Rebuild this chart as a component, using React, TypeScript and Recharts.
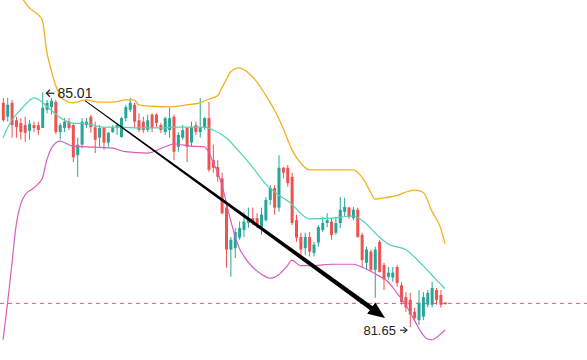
import { ComposedChart, Bar, Line, XAxis, YAxis, ReferenceLine, ReferenceDot } from 'recharts';

// OHLC candles, read left to right
const opens = [
  84.86, 84.66, 84.86, 84.61, 84.57, 84.54, 84.46, 84.54, 84.54, 84.5,
  84.76, 84.8, 84.87, 84.44, 84.5, 84.59, 84.54, 84.11, 84.26, 84.54,
  84.66, 84.51, 84.36, 84.5, 84.29, 84.44, 84.5, 84.37, 84.64, 84.76,
  84.83, 84.61, 84.59, 84.47, 84.69, 84.69, 84.54, 84.44, 84.47, 84.66,
  84.23, 84.36, 84.5, 84.29, 84.54, 84.44, 84.5, 84.64, 84.04, 83.94,
  83.78, 83.36, 82.76, 82.78, 82.93, 83.04, 83.14, 83.21, 83.21, 83.08,
  83.18, 83.47, 83.64, 83.36, 83.93, 83.93, 83.8, 83.18, 82.94, 82.78,
  82.94, 82.71, 82.86, 83.04, 83.14, 83.16, 83.0, 83.14, 83.3, 83.36,
  83.21, 83.33, 82.97, 82.57, 82.73, 82.47, 82.87, 82.54, 82.37, 82.36,
  82.51, 82.25, 82.08, 82.04, 81.87, 81.75, 81.8, 81.97, 81.97, 82.18,
  82.11, 82.0,
];
const highs = [
  84.93, 84.93, 84.9, 84.66, 84.64, 84.66, 84.61, 84.59, 84.59, 85.01,
  84.9, 84.93, 84.9, 84.57, 84.64, 84.64, 84.57, 84.36, 84.64, 84.64,
  84.69, 84.59, 84.54, 84.51, 84.44, 84.54, 84.57, 84.66, 84.83, 84.93,
  84.86, 84.71, 84.66, 84.69, 84.71, 84.71, 84.57, 84.66, 84.79, 84.69,
  84.44, 84.54, 84.51, 84.59, 84.59, 84.93, 84.66, 84.87, 84.26, 84.04,
  83.86, 83.4, 82.94, 83.07, 83.16, 83.3, 83.36, 83.36, 83.28, 83.36,
  83.51, 83.68, 83.68, 84.11, 83.94, 83.97, 83.86, 83.26, 83.0, 83.0,
  83.01, 82.87, 83.11, 83.23, 83.28, 83.21, 83.23, 83.51, 83.5, 83.37,
  83.37, 83.36, 83.0, 82.8, 82.76, 82.8, 82.9, 82.57, 82.51, 82.51,
  82.54, 82.3, 82.15, 82.14, 81.93, 82.18, 82.15, 82.18, 82.3, 82.21,
  82.18, 82.01,
];
const lows = [
  84.59, 84.59, 84.36, 84.36, 84.33, 84.3, 84.33, 84.44, 84.4, 84.5,
  84.71, 84.69, 84.41, 84.33, 84.44, 84.47, 84.01, 83.8, 84.21, 84.5,
  84.43, 84.14, 84.23, 84.19, 84.23, 84.43, 84.4, 84.36, 84.59, 84.73,
  84.5, 84.44, 84.43, 84.44, 84.44, 84.51, 84.43, 84.4, 84.36, 84.04,
  84.16, 84.33, 84.01, 84.23, 84.4, 84.36, 84.47, 83.87, 83.86, 83.73,
  83.26, 82.5, 82.37, 82.64, 82.9, 82.94, 83.07, 83.11, 83.07, 82.97,
  83.16, 83.4, 83.26, 83.3, 83.78, 83.66, 83.11, 82.87, 82.68, 82.68,
  82.66, 82.66, 82.8, 83.01, 83.08, 82.9, 82.97, 83.07, 83.23, 83.2,
  83.18, 82.93, 82.5, 82.47, 82.44, 82.07, 82.43, 82.18, 82.33, 82.3,
  82.23, 81.97, 81.87, 81.65, 81.73, 81.68, 81.75, 81.93, 81.93, 81.97,
  81.93, 81.97,
];
const closes = [
  84.61, 84.83, 84.54, 84.51, 84.44, 84.43, 84.56, 84.5, 84.47, 84.79,
  84.86, 84.89, 84.44, 84.54, 84.59, 84.5, 84.08, 84.26, 84.59, 84.59,
  84.51, 84.33, 84.5, 84.29, 84.43, 84.51, 84.54, 84.64, 84.8, 84.86,
  84.59, 84.47, 84.47, 84.61, 84.5, 84.57, 84.47, 84.64, 84.64, 84.16,
  84.4, 84.47, 84.23, 84.51, 84.44, 84.51, 84.64, 83.9, 83.93, 83.8,
  83.28, 82.76, 82.9, 83.01, 83.07, 83.16, 83.21, 83.16, 83.11, 83.26,
  83.47, 83.64, 83.36, 83.93, 83.86, 83.71, 83.14, 82.93, 82.76, 82.94,
  82.73, 82.83, 83.08, 83.14, 83.18, 82.97, 83.14, 83.33, 83.37, 83.23,
  83.33, 82.94, 82.61, 82.76, 82.47, 82.76, 82.44, 82.33, 82.43, 82.43,
  82.28, 82.01, 81.93, 81.83, 81.78, 82.0, 82.08, 82.14, 82.21, 82.04,
  81.97, 81.98,
];

// bollinger bands, read at selected candle indexes
const upperIdx = [0, 5, 6, 8, 9, 10, 11, 12, 13, 14, 16, 19, 22, 25, 28, 30, 31, 34, 38, 42, 45, 47, 49, 50, 51, 52, 54, 56, 58, 60, 62, 64, 66, 68, 70, 75, 80, 82, 84, 85, 87, 90, 92, 94, 96, 98, 100, 101];
const upperVal = [86.76, 86.3, 86.22, 86.12, 86.04, 85.59, 85.33, 85.11, 84.97, 84.9, 84.86, 84.9, 84.87, 84.87, 84.9, 84.9, 84.83, 84.81, 84.8, 84.83, 84.86, 84.91, 84.96, 85.07, 85.19, 85.3, 85.36, 85.29, 85.16, 84.97, 84.76, 84.5, 84.19, 84.0, 83.9, 83.9, 83.9, 83.8, 83.58, 83.48, 83.5, 83.53, 83.58, 83.61, 83.58, 83.31, 83.07, 82.84];
const midIdx = [0, 1, 2, 4, 6, 7, 8, 10, 12, 14, 16, 19, 23, 27, 31, 35, 40, 46, 48, 51, 54, 57, 60, 63, 66, 68, 70, 75, 80, 82, 86, 88, 92, 96, 99, 101];
const midVal = [84.36, 84.5, 84.61, 84.76, 84.89, 84.93, 84.91, 84.81, 84.7, 84.61, 84.57, 84.56, 84.51, 84.51, 84.5, 84.5, 84.51, 84.51, 84.47, 84.36, 84.16, 83.94, 83.7, 83.54, 83.41, 83.28, 83.2, 83.21, 83.24, 83.18, 82.94, 82.84, 82.76, 82.53, 82.33, 82.2];
const lowerIdx = [0, 1, 2, 3, 4, 5, 7, 8, 9, 10, 11, 13, 16, 19, 25, 28, 33, 37, 39, 43, 46, 47, 48, 49, 50, 51, 52, 53, 54, 55, 57, 59, 61, 63, 65, 66, 68, 71, 75, 80, 82, 84, 86, 88, 90, 92, 94, 96, 97, 98, 100, 101];
const lowerVal = [81.47, 81.97, 82.54, 83.11, 83.4, 83.54, 83.64, 83.7, 83.78, 84.04, 84.2, 84.31, 84.24, 84.23, 84.21, 84.16, 84.14, 84.23, 84.27, 84.24, 84.23, 84.16, 84.01, 83.87, 83.69, 83.44, 83.18, 82.96, 82.78, 82.67, 82.51, 82.41, 82.35, 82.4, 82.53, 82.61, 82.53, 82.53, 82.55, 82.55, 82.51, 82.45, 82.38, 82.3, 82.14, 81.97, 81.75, 81.54, 81.48, 81.47, 81.55, 81.61];

const highMark = { i: 9, price: 85.01 };
const lowMark = { i: 93, price: 81.65 };
const lastPrice = 81.99;
const trendFrom = { x: 18.74, y: 84.89 };
const trendTo = { x: 87.3, y: 81.78 };

const UP = '#26a69a';
const DOWN = '#ef5350';

const candles = opens.map((o, i) => ({
  i,
  open: o,
  high: highs[i],
  low: lows[i],
  close: closes[i],
  range: [lows[i], highs[i]],
}));

const band = (idx: number[], vals: number[]) => idx.map((i, k) => ({ i, v: vals[k] }));
const upper = band(upperIdx, upperVal);
const mid = band(midIdx, midVal);
const lower = band(lowerIdx, lowerVal);

const Candle = (props: any) => {
  const { x, y, width, height, payload } = props;
  const { open, close, high, low } = payload;
  const top = Math.min(y, y + height);
  const h = Math.abs(height);
  const k = high === low ? 0 : h / (high - low);
  const yOf = (v: number) => top + (high - v) * k;
  const color = close >= open ? UP : DOWN;
  const cx = x + width / 2;
  const bTop = yOf(Math.max(open, close));
  const bBot = yOf(Math.min(open, close));
  return (
    <g>
      <line x1={cx} x2={cx} y1={top} y2={top + h} stroke={color} strokeWidth={1} />
      <rect x={x} y={bTop} width={width} height={Math.max(1, bBot - bTop)} fill={color} />
    </g>
  );
};

const TrendArrow = (props: any) => {
  const { x1, y1, x2, y2 } = props;
  const dx = x2 - x1;
  const dy = y2 - y1;
  const len = Math.hypot(dx, dy);
  const ux = dx / len;
  const uy = dy / len;
  const nx = -uy;
  const ny = ux;
  const headLen = 17;
  const headW = 7;
  const w0 = 0.4;
  const w1 = 2.4;
  const bx = x2 - ux * headLen;
  const by = y2 - uy * headLen;
  const pts = [
    [x1 + nx * w0, y1 + ny * w0],
    [bx + nx * w1, by + ny * w1],
    [bx + nx * headW, by + ny * headW],
    [x2, y2],
    [bx - nx * headW, by - ny * headW],
    [bx - nx * w1, by - ny * w1],
    [x1 - nx * w0, y1 - ny * w0],
  ];
  return <polygon points={pts.map((p) => p.join(',')).join(' ')} fill="#000" />;
};

const HighLabel = (props: any) => {
  const { cx, cy } = props;
  const ay = cy + 1;
  return (
    <g>
      <line x1={cx + 4} y1={ay} x2={cx + 12} y2={ay} stroke="#222" strokeWidth={1.2} />
      <path d={`M${cx + 7.5},${ay - 3.5} L${cx + 4},${ay} L${cx + 7.5},${ay + 3.5}`} stroke="#222" fill="none" strokeWidth={1.2} />
      <text x={cx + 15} y={ay + 5} fontSize={14} fill="#222" fontFamily="'Liberation Sans', Arial, sans-serif">
        {highMark.price.toFixed(2)}
      </text>
    </g>
  );
};

const LowLabel = (props: any) => {
  const { cx, cy } = props;
  const ay = cy + 3;
  return (
    <g>
      <line x1={cx - 10} y1={ay} x2={cx - 3} y2={ay} stroke="#222" strokeWidth={1.1} />
      <path d={`M${cx - 6.5},${ay - 3} L${cx - 3},${ay} L${cx - 6.5},${ay + 3}`} stroke="#222" fill="none" strokeWidth={1.1} />
      <text x={cx - 14} y={ay + 5} fontSize={13} fill="#222" textAnchor="end" fontFamily="'Liberation Sans', Arial, sans-serif">
        {lowMark.price.toFixed(2)}
      </text>
    </g>
  );
};

export default function App() {
  return (
    <div style={{ position: 'absolute', left: 0, top: 0, width: 587, height: 360, background: '#fff' }}>
      <ComposedChart width={587} height={360} data={candles} margin={{ top: 0, right: 0, bottom: 0, left: 0 }}>
        <XAxis dataKey="i" type="number" domain={[-0.69, 133.46]} hide allowDataOverflow />
        <YAxis type="number" domain={[81.18, 86.33]} hide allowDataOverflow />
        <ReferenceLine y={lastPrice} stroke="#dc5a74" strokeDasharray="4 4" strokeWidth={1} />
        <Line data={upper} dataKey="v" type="monotone" stroke="#f2b01e" strokeWidth={1.3} dot={false} activeDot={false} isAnimationActive={false} />
        <Line data={mid} dataKey="v" type="monotone" stroke="#4fd3b3" strokeWidth={1.2} dot={false} activeDot={false} isAnimationActive={false} />
        <Line data={lower} dataKey="v" type="monotone" stroke="#d85cc0" strokeWidth={1.2} dot={false} activeDot={false} isAnimationActive={false} />
        <Bar dataKey="range" barSize={3} isAnimationActive={false} shape={(p: any) => <Candle {...p} />} />
        <ReferenceLine segment={[trendFrom, trendTo]} shape={(p: any) => <TrendArrow {...p} />} />
        <ReferenceDot x={highMark.i} y={highMark.price} r={0} shape={(p: any) => <HighLabel {...p} />} />
        <ReferenceDot x={lowMark.i} y={lowMark.price} r={0} shape={(p: any) => <LowLabel {...p} />} />
      </ComposedChart>
    </div>
  );
}
